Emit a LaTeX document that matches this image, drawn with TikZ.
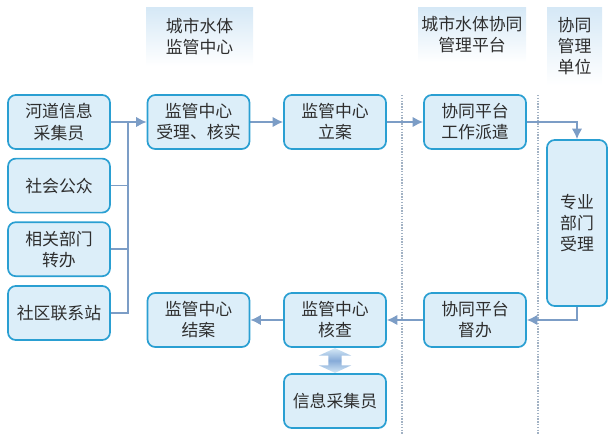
\documentclass[tikz,border=0pt]{standalone}
\usepackage{fontspec}
\setmainfont{Noto Sans CJK SC}
\usepackage{tikz}
\usetikzlibrary{arrows.meta, positioning, shapes.arrows, calc}
\definecolor{boxborder}{HTML}{2A9FD2}
\definecolor{boxfill}{HTML}{DCEEF9}
\definecolor{headfill}{HTML}{D5E8F6}
\definecolor{linkblue}{HTML}{7C9DC6}
\definecolor{sepgray}{HTML}{A2B2C4}
\definecolor{textgray}{HTML}{2E2E2E}
\definecolor{dblarrow}{HTML}{86ABD8}
\pgfdeclarelayer{background}
\pgfsetlayers{background,main}

\begin{document}
\begin{tikzpicture}[
    base/.style={line width=1.2pt, rounded corners=5.5pt,
      align=center, text=textgray, inner sep=0pt,
      font=\fontsize{12}{15}\selectfont},
    stepbox/.style ={base, draw=boxborder, fill=boxfill,
      minimum width=2.55cm, minimum height=1.35cm},
    tallbox/.style ={base, draw=boxborder, fill=boxfill,
      minimum width=1.5cm, minimum height=4.15cm},
    header/.style={align=center, text=textgray, inner sep=0pt,
      font=\fontsize{12}{15}\selectfont,
      top color=headfill, bottom color=white},
    arrow/.style={-{Latex[length=7.5pt, width=7.5pt]},
      line width=1.2pt, color=linkblue},
    link/.style={line width=1.2pt, color=linkblue},
    sepline/.style={densely dotted, line width=1pt, color=sepgray},
    swap/.style={double arrow, draw=none, rotate=90,
      inner xsep=0.05cm, inner ysep=0.16cm,
      minimum width=0.8cm, minimum height=0.62cm,
      double arrow head extend=0.24cm, double arrow tip angle=130,
      top color=headfill, bottom color=headfill, middle color=dblarrow},
]
\useasboundingbox (0, 0) rectangle (15.375, -10.85);
\node[header, minimum width=2.675cm, minimum height=1.475cm] (headjg) at (4.9875, -0.9125)
    {城市水体\\监管中心};
\node[header, minimum width=2.7cm, minimum height=1.375cm] (headpt) at (11.8, -0.8625)
    {城市水体协同\\管理平台};
\node[header, minimum width=1.375cm, minimum height=1.95cm] (headdw) at (14.3625, -1.15)
    {协同\\管理\\单位};
\node[stepbox] (hedao) at (1.475, -3.05)
    {河道信息\\采集员};
\node[stepbox] (gongzhong) at (1.475, -4.64)
    {社会公众};
\node[stepbox] (zhuanban) at (1.475, -6.23)
    {相关部门\\转办};
\node[stepbox] (lianxi) at (1.475, -7.825)
    {社区联系站};
\node[stepbox] (shouli) at (4.9625, -3.05)
    {监管中心\\受理、核实};
\node[stepbox] (lian) at (8.375, -3.05)
    {监管中心\\立案};
\node[stepbox] (paiqian) at (11.875, -3.05)
    {协同平台\\工作派遣};
\node[tallbox] (zhuanye) at (14.425, -5.575)
    {专业\\部门\\受理};
\node[stepbox] (duban) at (11.875, -8.0)
    {协同平台\\督办};
\node[stepbox] (hecha) at (8.375, -8.0)
    {监管中心\\核查};
\node[stepbox] (jiean) at (4.9625, -8.0)
    {监管中心\\结案};
\node[stepbox] (caiji) at (8.375, -10.025)
    {信息采集员};
\node[swap] (hechaswap) at ($(hecha.south)!0.5!(caiji.north)$) {};
\coordinate (bus) at (3.2, -3.05);
\begin{pgfonlayer}{background}
\draw[sepline] (10.05, -2.375) -- (10.05, -10.85);
\draw[sepline] (13.45, -2.375) -- (13.45, -10.85);
\draw[link] (lianxi.east) -| (bus);
\draw[link] (gongzhong.east) -- (gongzhong.east -| bus);
\draw[link] (zhuanban.east) -- (zhuanban.east -| bus);
\draw[arrow] (hedao.east) -- (shouli.west);
\draw[arrow] (shouli.east) -- (lian.west);
\draw[arrow] (lian.east) -- (paiqian.west);
\draw[arrow] (paiqian.east) -| (zhuanye.north);
\draw[arrow] (zhuanye.south) |- (duban.east);
\draw[arrow] (duban.west) -- (hecha.east);
\draw[arrow] (hecha.west) -- (jiean.east);
\end{pgfonlayer}
\end{tikzpicture}
\end{document}
